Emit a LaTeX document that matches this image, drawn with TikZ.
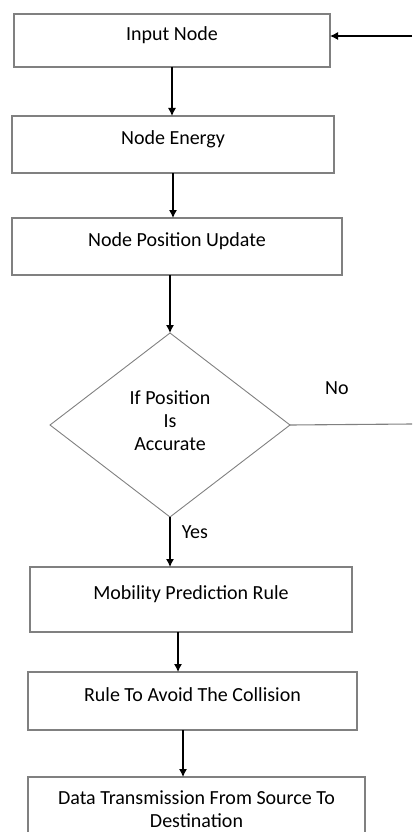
\documentclass[tikz,border=0pt]{standalone}
\usepackage{fontspec}
\setmainfont{Carlito}
\usetikzlibrary{arrows.meta,shapes.geometric,positioning}

\begin{document}
\begin{tikzpicture}[x=1pt,y=-1pt,->,>={Latex[length=8pt,width=8pt]},line width=1.1pt,
	font=\fontsize{20}{23}\selectfont,
	box/.style={draw=gray,line width=1.2pt,rectangle,inner sep=0pt,outer sep=0pt,text height=14pt,text depth=14pt},
	lastbox/.style={draw=gray,line width=1.2pt,rectangle,inner sep=0pt,outer sep=0pt,align=center},
	decision/.style={draw=gray,line width=0.9pt,diamond,aspect=1.3,inner sep=0pt,outer sep=0pt,align=center,
		text depth=8pt,minimum width=240pt,minimum height=184pt}]
	\useasboundingbox (0,0) rectangle (412,832);
	\clip (0,0) rectangle (412,832);

	\node[box,minimum width=316pt,minimum height=53pt] (A) at (172,40.5) {Input Node};
	\node[box,minimum width=322pt,minimum height=57pt] (B) [below=49pt of A,xshift=1pt] {Node Energy};
	\node[box,minimum width=330pt,minimum height=57pt] (C) [below=45pt of B,xshift=4pt] {Node Position Update};
	\node[decision] (D) [below=58pt of C,xshift=-7pt] {If Position\\Is\\Accurate};
	\node[box,minimum width=322pt,minimum height=65pt] (E) [below=50pt of D,xshift=21pt] {Mobility Prediction Rule};
	\node[box,minimum width=329pt,minimum height=58pt] (F) [below=40pt of E,xshift=1.5pt] {Rule To Avoid The Collision};
	\node[lastbox,minimum width=337pt,minimum height=65pt] (G) [below=47pt of F,xshift=4pt] {Data Transmission From Source To\\Destination};

	% loose ends at the right border
	\coordinate (back) at (412,36);
	\coordinate (noend) at (412,424);

	\path
	(back) edge (A.east |- back)
	(A.south) edge (A.south |- B.north)
	(B.south) edge (B.south |- C.north)
	(C.south -| D.north) edge (D.north)
	(D.south) edge node[pos=0.3,right=8pt] {Yes} (D.south |- E.north)
	(D.east) edge[-,draw=gray] node[pos=0.385,above=26pt] {No} (noend)
	([xshift=-13pt]E.south) edge ([xshift=-13pt]E.south |- F.north)
	([xshift=-9.5pt]F.south) edge ([xshift=-9.5pt]F.south |- G.north);
\end{tikzpicture}
\end{document}
